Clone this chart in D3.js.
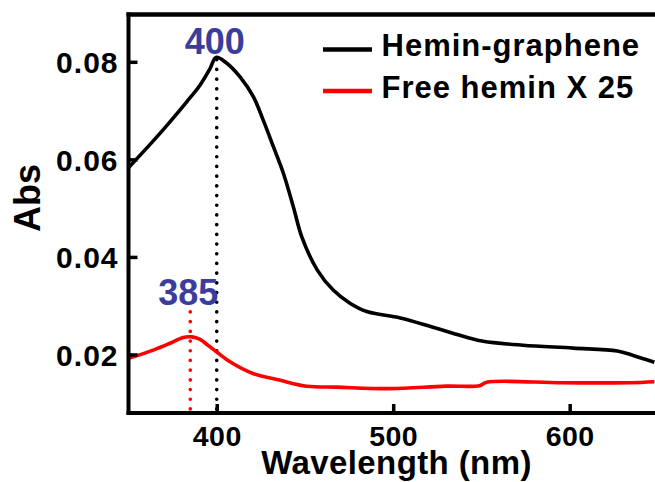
<!DOCTYPE html>
<html>
<head>
<meta charset="utf-8">
<script src="https://cdn.jsdelivr.net/npm/d3@7"></script>
<style>
  html, body { margin: 0; padding: 0; background: #fff; }
  svg { display: block; }
  text { font-family: "Liberation Sans", Arial, sans-serif; font-weight: bold; }
</style>
</head>
<body>
<svg id="chart" width="655" height="482"></svg>
<script>
// ---- data ----
const blackWl  = [350, 364.3, 373.5, 383, 390.5, 396.2, 399.6, 405.7, 413.2, 420.8, 426.4, 432.1, 437.8, 443.4, 448.2, 457, 466, 475.5, 485, 504, 522.5, 542, 551, 573.5, 602, 627, 636, 648];
const blackAbs = [0.0583, 0.0639, 0.0677, 0.0718, 0.0752, 0.0786, 0.0809, 0.0797, 0.0769, 0.0728, 0.0680, 0.0626, 0.0571, 0.0503, 0.0441, 0.0373, 0.0332, 0.0305, 0.0288, 0.0275, 0.0256, 0.0235, 0.0227, 0.0219, 0.0213, 0.0207, 0.0198, 0.0184];
const redWl    = [350, 364, 373.5, 381, 386, 390.5, 395, 400, 407.5, 420.5, 436, 451, 468, 498, 530, 549, 553, 596, 634, 648];
const redAbs   = [0.0192, 0.0209, 0.0223, 0.0235, 0.0236, 0.0231, 0.0219, 0.0205, 0.0185, 0.0161, 0.0147, 0.0135, 0.0133, 0.0130, 0.0135, 0.0136, 0.0143, 0.0142, 0.0142, 0.0144];
const seriesNames = ["Hemin-graphene", "Free hemin X 25"];
const peakWl     = [400, 385];
const peakTop    = [0.0809, 0.0295];
const peakLabels = ["400", "385"];
const xTicks = [400, 500, 600];
const yTicks = [0.02, 0.04, 0.06, 0.08];
const xDomain = [350, 650];
const yDomain = [0.008, 0.0897];

// ---- layout ----
const svg = d3.select("#chart");
const mLeft = 128.5, mRight = 657.9, mTop = 14.5, mBottom = 413;
const x = d3.scaleLinear().domain(xDomain).range([mLeft, mRight]);
const y = d3.scaleLinear().domain(yDomain).range([mBottom, mTop]);
const colors = ["#000000", "#ff0000"];
const blue = "#3a3d9c";

// clip
svg.append("defs").append("clipPath").attr("id", "clip")
  .append("rect").attr("x", mLeft).attr("y", mTop).attr("width", mRight - mLeft).attr("height", mBottom - mTop);

// dotted peak lines
const peakColors = ["#000000", "#ff0000"];
peakWl.forEach((w, i) => {
  svg.append("line")
    .attr("x1", x(w)).attr("x2", x(w))
    .attr("y1", mBottom - 4).attr("y2", y(peakTop[i]) + 2)
    .attr("stroke", peakColors[i]).attr("stroke-width", 3.6)
    .attr("stroke-linecap", "round").attr("stroke-dasharray", "0.1,9.6");
});

// curves
const line = d3.line().x(d => x(d[0])).y(d => y(d[1])).curve(d3.curveCatmullRom.alpha(0.5));
const g = svg.append("g").attr("clip-path", "url(#clip)");
g.append("path").datum(redWl.map((w, i) => [w, redAbs[i]]))
  .attr("d", line).attr("fill", "none").attr("stroke", colors[1]).attr("stroke-width", 3.6);
g.append("path").datum(blackWl.map((w, i) => [w, blackAbs[i]]))
  .attr("d", line).attr("fill", "none").attr("stroke", colors[0]).attr("stroke-width", 3.6)
  .attr("stroke-linejoin", "round");

// axes
const xAxis = svg.append("g").attr("transform", `translate(0,${mBottom})`)
  .call(d3.axisBottom(x).tickValues(xTicks).tickSizeInner(-9).tickSizeOuter(0).tickFormat(d3.format("d")));
const yAxis = svg.append("g").attr("transform", `translate(${mLeft},0)`)
  .call(d3.axisLeft(y).tickValues(yTicks).tickSizeInner(-9).tickSizeOuter(0).tickFormat(d3.format(".2f")));
[xAxis, yAxis].forEach(a => {
  a.select(".domain").attr("stroke", "#000").attr("stroke-width", 4);
  a.selectAll(".tick line").attr("stroke", "#000").attr("stroke-width", 3.5);
  a.selectAll("text").attr("fill", "#000").style("font-size", "29px");
});
xAxis.select(".domain").attr("d", `M${mLeft - 2},0H${mRight}`);
yAxis.select(".domain").attr("d", `M0,${mTop - 2}V${mBottom + 2}`);
xAxis.selectAll(".tick text").attr("y", 32.5).attr("dy", 0).style("font-size", "28.5px").style("letter-spacing", "0.5px");
yAxis.selectAll(".tick text").attr("x", -10).attr("dy", "0.36em").style("font-size", "30px").style("letter-spacing", "1px");

// top border
svg.append("line").attr("x1", mLeft - 2).attr("x2", mRight).attr("y1", mTop).attr("y2", mTop)
  .attr("stroke", "#000").attr("stroke-width", 4.5);

// peak labels
peakWl.forEach((w, i) => {
  svg.append("text").attr("x", x(w) - 2).attr("y", y(peakTop[i]) - 3)
    .attr("text-anchor", "middle").attr("fill", blue)
    .style("font-size", "36px").text(peakLabels[i]);
});

// axis titles
svg.append("text").attr("x", 396.5).attr("y", 473.5).attr("text-anchor", "middle")
  .style("font-size", "33px").style("letter-spacing", "0.4px").attr("fill", "#000").text("Wavelength (nm)");
svg.append("text").attr("transform", "translate(40,198) rotate(-90)").attr("text-anchor", "middle")
  .style("font-size", "36px").attr("fill", "#000").text("Abs");

// legend
const legY = [49.5, 91];
seriesNames.forEach((name, i) => {
  svg.append("line").attr("x1", 323).attr("x2", 372).attr("y1", legY[i]).attr("y2", legY[i])
    .attr("stroke", colors[i]).attr("stroke-width", 4.5);
  svg.append("text").attr("x", 381.5).attr("y", legY[i] + 6 + 0.5 * i)
    .style("font-size", "31px").style("letter-spacing", "1px").attr("fill", "#000").text(name);
});
</script>
</body>
</html>
